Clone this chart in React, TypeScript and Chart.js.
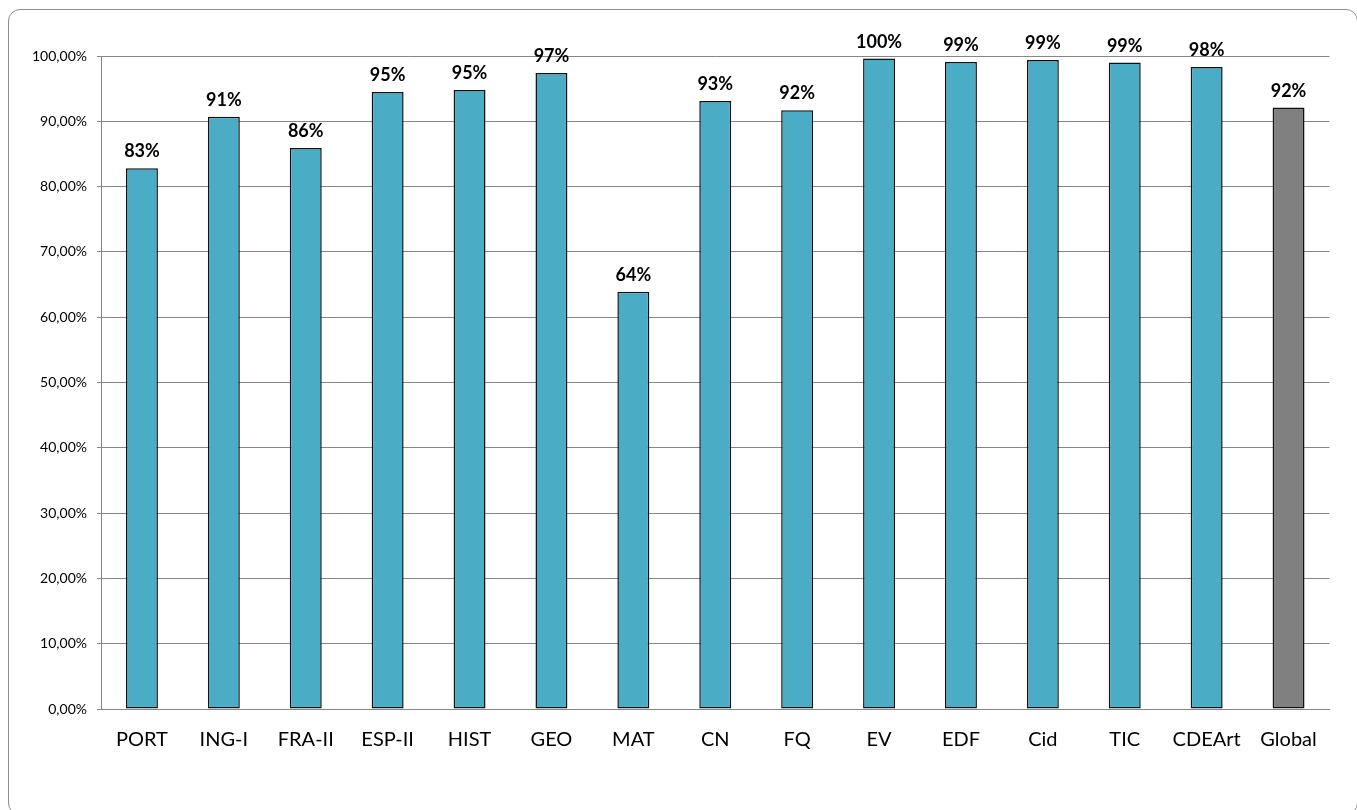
import React, { useEffect, useRef } from "react";
import { Chart, registerables } from "chart.js";

Chart.register(...registerables);

const categories = ["PORT", "ING-I", "FRA-II", "ESP-II", "HIST", "GEO", "MAT", "CN", "FQ", "EV", "EDF", "Cid", "TIC", "CDEArt", "Global"];
const values = [82.8, 90.7, 85.9, 94.5, 94.8, 97.4, 63.9, 93.1, 91.7, 99.6, 99.1, 99.4, 99.0, 98.3, 92.1];
const barColors = ["#4BACC6", "#4BACC6", "#4BACC6", "#4BACC6", "#4BACC6", "#4BACC6", "#4BACC6", "#4BACC6", "#4BACC6", "#4BACC6", "#4BACC6", "#4BACC6", "#4BACC6", "#4BACC6", "#808080"];
const yTicks = [0, 10, 20, 30, 40, 50, 60, 70, 80, 90, 100];

const FONT = "Lato, 'Open Sans', sans-serif";

const valueLabels = {
  id: "valueLabels",
  afterDatasetsDraw(chart: any) {
    const ctx = chart.ctx;
    const meta = chart.getDatasetMeta(0);
    ctx.save();
    ctx.font = `bold 18px ${FONT}`;
    ctx.fillStyle = "#000";
    ctx.textAlign = "center";
    ctx.textBaseline = "alphabetic";
    meta.data.forEach((bar: any, i: number) => {
      const v = chart.data.datasets[0].data[i] as number;
      ctx.fillText(`${Math.round(v)}%`, bar.x, bar.y - 11);
    });
    ctx.restore();
  },
};

export default function App() {
  const ref = useRef<HTMLCanvasElement>(null);

  useEffect(() => {
    if (!ref.current) return;
    Chart.defaults.font.family = FONT;
    const chart = new Chart(ref.current, {
      type: "bar",
      data: {
        labels: categories,
        datasets: [
          {
            data: values,
            backgroundColor: barColors,
            borderColor: "#111",
            borderWidth: 1.5,
            borderSkipped: false,
            barPercentage: 0.39,
            categoryPercentage: 1,
          },
        ],
      },
      options: {
        responsive: false,
        animation: false,
        devicePixelRatio: 1,
        layout: { padding: { top: 46, right: 27.5, left: 0, bottom: 0 } },
        plugins: { legend: { display: false }, tooltip: { enabled: false } },
        scales: {
          x: {
            grid: { display: false, drawTicks: false },
            border: { display: true, color: "#868686", width: 1 },
            ticks: { color: "#000", font: { size: 20, family: FONT }, padding: 19, maxRotation: 0, autoSkip: false },
            afterFit(scale: any) {
              scale.height = 99;
            },
          },
          y: {
            min: 0,
            max: 100,
            afterBuildTicks(scale: any) {
              scale.ticks = yTicks.map((v) => ({ value: v }));
            },
            grid: { color: "#868686", lineWidth: 1, tickLength: 4, drawTicks: true },
            border: { display: true, color: "#868686", width: 1 },
            ticks: {
              color: "#000",
              font: { size: 14, family: FONT },
              padding: 10,
              callback: (v: any) => `${Number(v).toFixed(2).replace(".", ",")}%`,
            },
            afterFit(scale: any) {
              scale.width = 92;
            },
          },
        },
      },
      plugins: [valueLabels],
    });
    return () => chart.destroy();
  }, []);

  return (
    <div
      style={{
        position: "fixed",
        left: 8,
        top: 9,
        width: 1350,
        height: 806,
        border: "1px solid #8c8c8c",
        borderRadius: 12,
        boxSizing: "border-box",
        background: "#fff",
        overflow: "hidden",
      }}
    >
      <canvas ref={ref} width={1348} height={798} style={{ display: "block" }} />
    </div>
  );
}
